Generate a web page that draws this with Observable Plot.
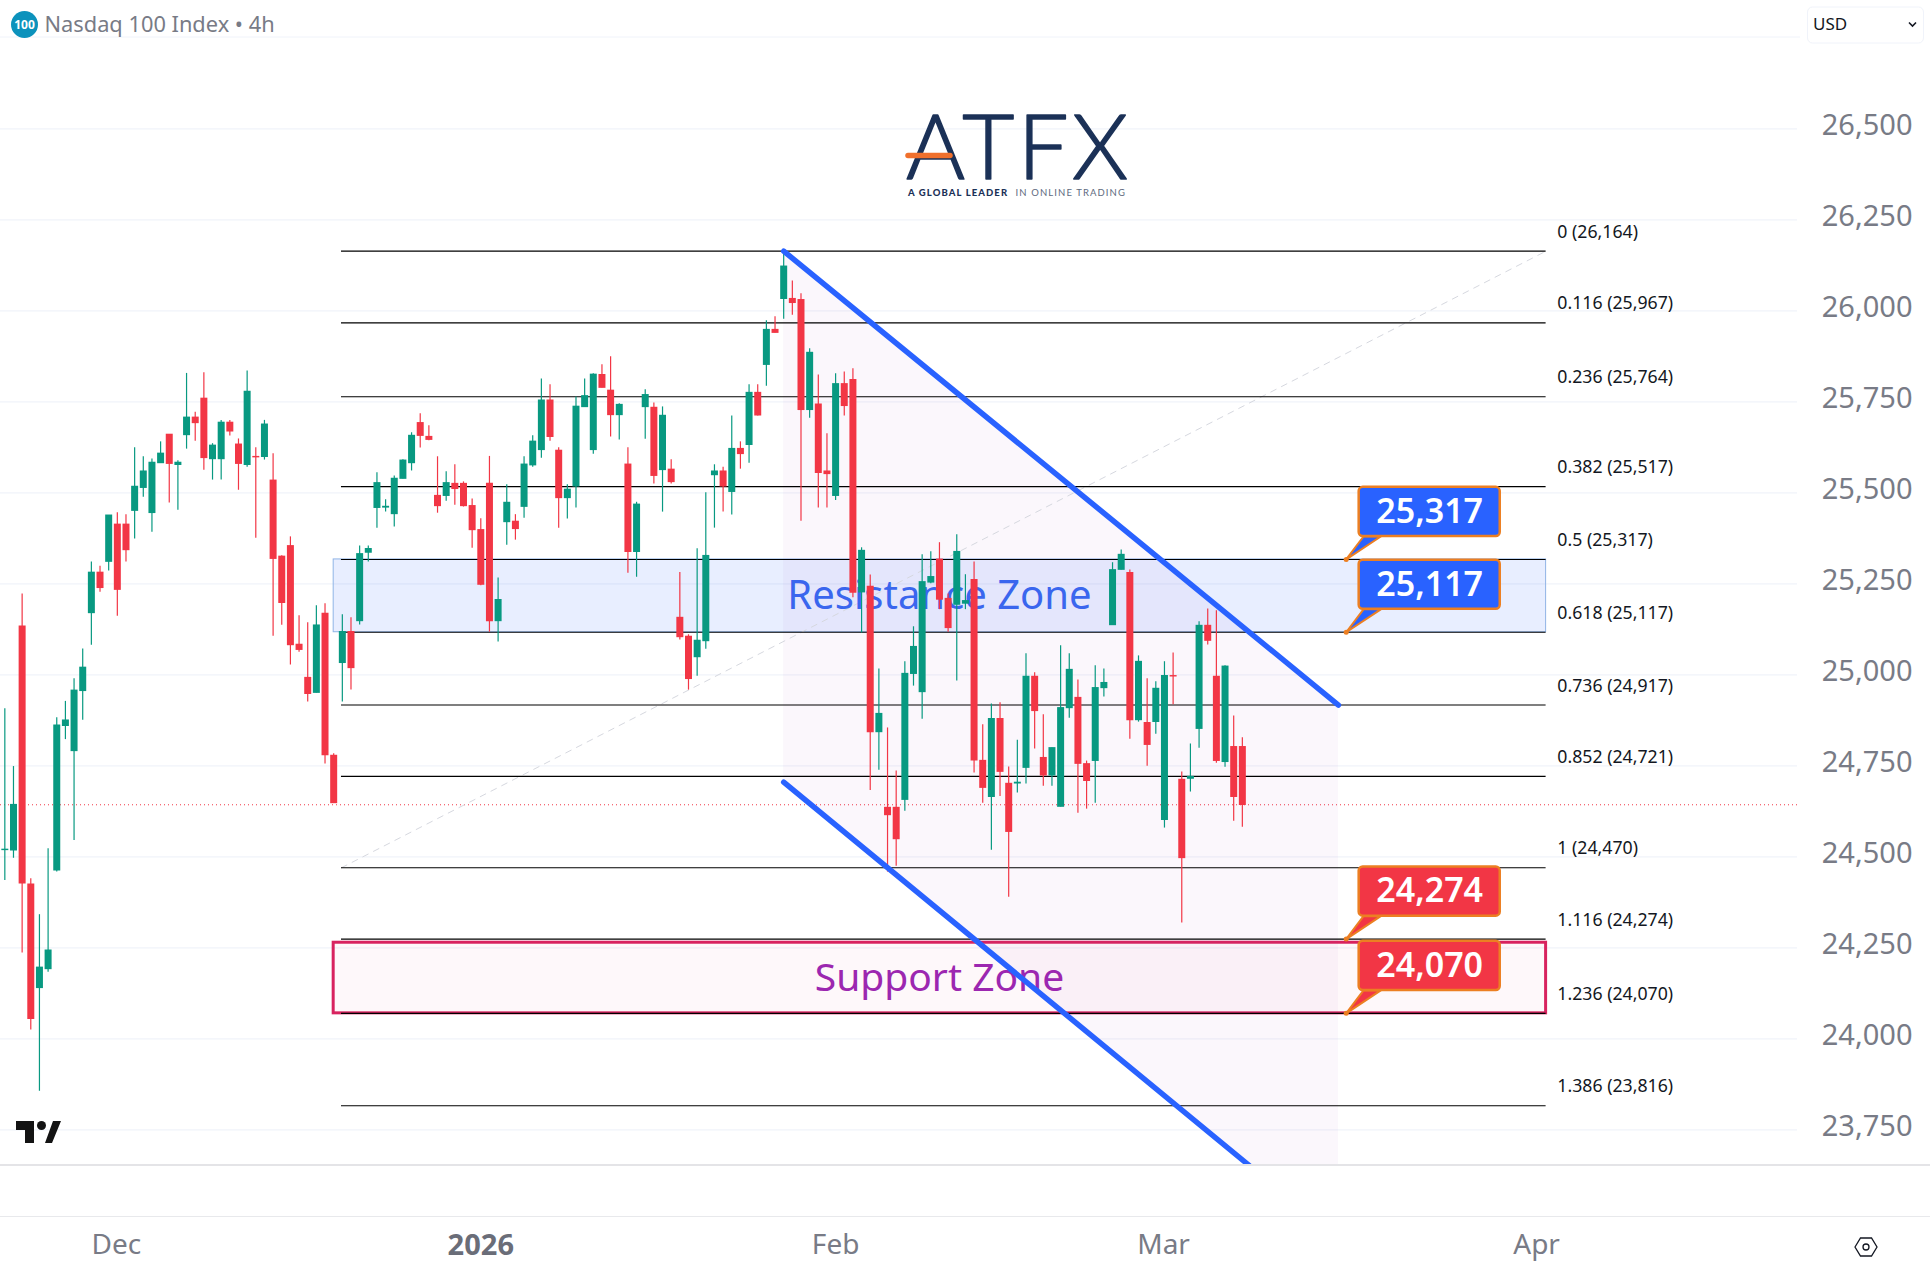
<!DOCTYPE html>
<html><head><meta charset="utf-8">
<script src="https://cdn.jsdelivr.net/npm/d3@7"></script>
<script src="https://cdn.jsdelivr.net/npm/@observablehq/plot@0.6"></script>
<style>html,body{margin:0;padding:0;background:#fff}svg{display:block}</style>
</head><body><div id="chart"></div>
<script>
const candleHigh = [
24907,24748,25222,24440,24341,24522,24882,24927,24989,25071,25310,25298,
25438,25445,25440,25624,25599,25593,25640,25660,25588,25828,25721,25830,
25635,25699,25699,25648,25835,25624,25699,25607,25327,25379,25162,25143,
25190,25195,24783,25165,25157,25354,25354,25555,25481,25546,25591,25665,
25717,25684,25599,25558,25577,25530,25483,25429,25600,25266,25522,25440,
25599,25657,25813,25797,25624,25522,25763,25813,25827,25852,25874,25745,
25624,25474,25783,25747,25736,25591,25281,25110,25346,25500,25577,25570,
25711,25640,25797,25797,25973,25984,26164,26082,26047,25896,25824,25662,
25827,25832,25841,25349,25274,25016,24854,24736,25036,25132,25330,25338,
25363,25222,25385,25275,25310,24863,24920,24923,24747,24820,25058,25006,
24890,24799,25080,25058,24986,24763,25025,25016,25308,25343,25288,25052,
24989,24981,25036,25060,24733,24810,25146,25181,25176,25025,24887,24827];
const candleLow = [
24435,24496,24236,24024,23856,24183,24458,24822,24545,24875,25081,25227,
25285,25161,25310,25373,25488,25392,25581,25472,25452,25620,25642,25562,
25535,25535,25656,25507,25570,25375,25590,25106,25136,25027,25062,24925,
24950,24755,24647,24925,24958,25137,25310,25403,25447,25406,25538,25560,
25623,25643,25444,25477,25466,25461,25348,25245,25117,25090,25356,25370,
25430,25570,25595,25642,25403,25428,25458,25735,25606,25788,25653,25645,
25279,25268,25647,25524,25447,25524,25096,24958,24996,25070,25403,25447,
25439,25565,25581,25711,25793,25939,25977,25988,25422,25705,25458,25458,
25479,25711,25212,25115,24682,24738,24458,24474,24625,24969,24878,25250,
25179,25117,24983,25179,24730,24647,24518,24666,24389,24675,24700,24796,
24694,24694,24637,24881,24620,24631,24647,24939,25136,25288,24823,24870,
24749,24837,24579,24918,24318,24678,24798,25082,24757,24746,24598,24581];
const candleOpen = [
24518,24517,25133,24424,24139,24191,24462,24859,24790,24955,25169,25281,
25310,25413,25413,25450,25513,25444,25581,25660,25576,25658,25707,25759,
25592,25592,25693,25633,25576,25599,25598,25534,25325,25354,25083,24992,
24950,25168,24778,25032,25118,25147,25335,25458,25459,25441,25538,25581,
25692,25654,25492,25491,25525,25525,25464,25398,25525,25147,25419,25421,
25461,25575,25617,25754,25616,25485,25517,25735,25617,25824,25781,25713,
25578,25337,25735,25734,25562,25564,25157,25105,25048,25092,25548,25559,
25502,25621,25631,25775,25851,25948,26032,26033,26030,25727,25743,25559,
25491,25799,25810,25226,25242,24842,24635,24635,24656,25002,24952,25253,
25317,25209,25192,25195,25261,24764,24664,24879,24701,24701,24744,24995,
24772,24723,24637,24908,24937,24755,24763,24963,25136,25288,25280,24875,
24868,24870,24601,24997,24712,24714,24851,25135,24995,24760,24802,24802];
const candleClose = [
24520,24643,24426,24054,24196,24243,24861,24875,24957,25020,25281,25238,
25438,25233,25342,25517,25559,25583,25608,25579,25583,25707,25691,25595,
25630,25693,25668,25579,25778,25597,25688,25318,25197,25081,25068,24947,
25136,24779,24647,25118,25018,25332,25346,25527,25462,25539,25589,25657,
25656,25645,25463,25527,25510,25463,25397,25247,25147,25206,25473,25400,
25578,25641,25754,25653,25485,25509,25737,25766,25825,25788,25713,25742,
25337,25468,25769,25546,25712,25529,25103,24988,25094,25327,25559,25517,
25621,25606,25775,25712,25948,25939,26122,26021,25727,25885,25554,25551,
25799,25738,25225,25341,24842,24893,24614,24548,25003,25077,25255,25269,
25206,25128,25338,25203,24764,24689,24879,24733,24568,24704,24995,24900,
24723,24799,24909,25014,24755,24708,24964,24978,25288,25330,24875,25036,
24807,24962,24997,24995,24496,24720,25135,25093,24763,25023,24664,24642];

const lastPrice = 24643;
const axisPrices = [23750,24000,24250,24500,24750,25000,25250,25500,25750,26000,26250,26500];
const monthLabels = ["Dec","Feb","Mar","Apr"];
const monthBars = [12.9,96,133.9,177];
const yearLabel = "2026", yearBar = 55;

const fibRatios = ["0","0.116","0.236","0.382","0.5","0.618","0.736","0.852","1","1.116","1.236","1.386"];
const fibPrices = [26164,25967,25764,25517,25317,25117,24917,24721,24470,24274,24070,23816];
const fibStart = 38.9, fibEnd = 178.1;
const zoneStart = 38, zoneEnd = 178.1;
const resistance = {top:25317,bottom:25117,label:"Resistance Zone"};
const support = {top:24264,bottom:24070,label:"Support Zone"};
const channelBars = [90,143.8,154.1];
const channelUpper = [26164,25118,24917];
const channelLower = [24705,23652,23652];
const calloutLevels = [25317,25117,24274,24070];
const calloutColors = ["#2962ff","#2962ff","#f23645","#f23645"];
const calloutTip = 155, calloutLeft = 156.5, calloutRight = 172.8, calloutBaseL = 157, calloutBaseR = 159;
const calloutTopRise = 198, calloutBottomRise = 63;

const candles = candleOpen.map((o,i)=>({i,o,c:candleClose[i],h:candleHigh[i],l:candleLow[i],up:candleClose[i]>=o}));
const UP="#089981", DOWN="#f23645", ORANGE="#ec7f22", FONT="'Noto Sans',sans-serif";
const fmt = d3.format(",");
const channel = channelBars.map((x,k)=>({x,u:channelUpper[k],l:channelLower[k]}));
const fibs = fibPrices.map((p,k)=>({p,label:`${fibRatios[k]} (${fmt(p)})`}));
const callouts = calloutLevels.map((p,k)=>({p,fill:calloutColors[k]}));
const pointers = callouts.flatMap((c,k)=>[
  {k,x:calloutTip,y:c.p,fill:c.fill},
  {k,x:calloutBaseL,y:c.p+calloutBottomRise,fill:c.fill},
  {k,x:calloutBaseR,y:c.p+calloutBottomRise,fill:c.fill}]);

function decorations(index,scales,values,dim){
  const g=d3.create("svg:g").attr("text-anchor","start");
  // header
  g.append("path").attr("d","M0 37H1800").attr("stroke","#f0f3fa").attr("stroke-width",1).attr("fill","none");
  g.append("circle").attr("cx",24.5).attr("cy",24.5).attr("r",13.5).attr("fill","#0c92bc");
  g.append("text").attr("x",24.5).attr("y",29).attr("text-anchor","middle").attr("fill","#fff")
   .attr("font-family",FONT).attr("font-size",12).attr("font-weight",700).text("100");
  g.append("text").attr("x",44.5).attr("y",32).attr("fill","#787b86").attr("font-family",FONT).attr("font-size",21.8).text("Nasdaq 100 Index • 4h");
  // currency box
  g.append("rect").attr("x",1807.5).attr("y",7).attr("width",116).attr("height",36).attr("rx",5).attr("fill","#fff").attr("stroke","#f0f3fa");
  g.append("text").attr("x",1813).attr("y",30).attr("fill","#131722").attr("font-family",FONT).attr("font-size",17).text("USD");
  g.append("path").attr("d","M1909 22.5l3.5 3.5 3.5-3.5").attr("fill","none").attr("stroke","#131722").attr("stroke-width",1.6);
  // pane borders
  g.append("path").attr("d","M0 1165H1930").attr("stroke","#e4e4e7").attr("stroke-width",2);
  g.append("path").attr("d","M0 1216.5H1930").attr("stroke","#e8e9ec").attr("stroke-width",1.2);
  // settings icon
  g.append("path").attr("d","M1855 1247l5.5-9h11l5.5 9-5.5 9h-11z").attr("fill","none").attr("stroke","#131722").attr("stroke-width",1.3);
  g.append("circle").attr("cx",1866).attr("cy",1247).attr("r",3).attr("fill","none").attr("stroke","#131722").attr("stroke-width",1.3);
  // TradingView mark
  g.append("path").attr("d","M16 1121H34V1143H25V1130H16ZM45 1143L53 1121H61L52 1143Z").attr("fill","#131313");
  g.append("circle").attr("cx",41.5).attr("cy",1125.5).attr("r",4.5).attr("fill","#131313");
  // logo
  g.append("text").attr("x",906).attr("y",179).attr("fill","#1b3157").attr("stroke","#1b3157").attr("stroke-width",1.6).attr("stroke-linejoin","round").attr("font-family","Lato").attr("font-weight",300).attr("font-size",90).attr("textLength",222).text("ATFX");
  g.append("path").attr("d","M908 155.5H950").attr("stroke","#f0702c").attr("stroke-width",5.5).attr("stroke-linecap","round");
  g.append("text").attr("x",908).attr("y",196).attr("fill","#1b3157").attr("font-family","Lato").attr("font-weight",900).attr("font-size",9.5).attr("letter-spacing",1.1).text("A GLOBAL LEADER");
  g.append("text").attr("x",1126).attr("y",196).attr("text-anchor","end").attr("fill","#5e6a7e").attr("font-family","Lato").attr("font-size",9.5).attr("letter-spacing",1.1).text("IN ONLINE TRADING");
  return g.node();
}

const chart = Plot.plot({
  width:1930,height:1281,
  marginTop:0,marginLeft:0,marginRight:133,marginBottom:116,
  x:{type:"linear",domain:[-0.5,207.15],axis:null},
  y:{type:"linear",domain:[23652,26852.5],axis:null},
  style:{background:"#fff",fontFamily:FONT,overflow:"visible"},
  marks:[
    Plot.ruleY(axisPrices,{stroke:"#f0f3fa",strokeWidth:1.2,strokeOpacity:1}),
    Plot.axisY({ticks:axisPrices,anchor:"right",tickSize:0,textAnchor:"end",tickPadding:115,dy:-3,fontSize:29,fill:"#787b86",tickFormat:d3.format(","),label:null}),
    Plot.axisX({ticks:monthBars,tickFormat:(d,k)=>monthLabels[k],anchor:"bottom",tickSize:0,tickPadding:69,fontSize:28,fill:"#787b86",label:null}),
    Plot.axisX({ticks:[yearBar],tickFormat:()=>yearLabel,anchor:"bottom",tickSize:0,tickPadding:69,fontSize:29,fontWeight:700,fill:"#6a6d78",label:null}),
    Plot.ruleY([lastPrice],{stroke:DOWN,strokeWidth:1,strokeDasharray:"1,3"}),
    Plot.rect([resistance],{x1:()=>zoneStart,x2:()=>zoneEnd,y1:"bottom",y2:"top",fill:"#2962ff",fillOpacity:0.11,stroke:"#90b4e6",strokeWidth:1}),
    Plot.rect([support],{x1:()=>zoneStart,x2:()=>zoneEnd,y1:"bottom",y2:"top",fill:"#e91e63",fillOpacity:0.03,stroke:"#d8235f",strokeWidth:3}),
    Plot.areaY(channel,{x:"x",y1:"u",y2:"l",fill:"#9c27b0",fillOpacity:0.04}),
    Plot.line([[fibStart,fibPrices[8]],[fibEnd,fibPrices[0]]],{stroke:"#d6d8df",strokeWidth:1,strokeDasharray:"6,6"}),
    Plot.ruleY(fibPrices,{x1:()=>fibStart,x2:()=>fibEnd,stroke:"#000",strokeWidth:1.1}),
    Plot.text(fibs,{x:()=>fibEnd+1.3,y:"p",text:"label",textAnchor:"start",dy:-19,fontSize:17.7,fill:"#131722"}),
    Plot.text([resistance],{x:()=>108,y:d=>(d.top+d.bottom)/2,text:"label",fontSize:40,fill:"#3a66ee"}),
    Plot.text([support],{x:()=>108,y:d=>(d.top+d.bottom)/2,text:"label",fontSize:39,fill:"#9c27b0"}),
    Plot.ruleX(candles,{x:"i",y1:"l",y2:"h",stroke:d=>d.up?UP:DOWN,strokeWidth:1.2}),
    Plot.ruleX(candles,{x:"i",y1:d=>Math.min(d.o,d.c)-1,y2:d=>Math.max(d.o,d.c)+1,stroke:d=>d.up?UP:DOWN,strokeWidth:7}),
    Plot.line([[channelBars[0],channelUpper[0]],[channelBars[2],channelUpper[2]]],{stroke:"#2962ff",strokeWidth:5.5,strokeLinecap:"round"}),
    Plot.line([[channelBars[0],channelLower[0]],[channelBars[1],channelLower[1]]],{stroke:"#2962ff",strokeWidth:5.5,strokeLinecap:"round",clip:true}),
    Plot.line(pointers,{x:"x",y:"y",z:"k",fill:"fill",stroke:ORANGE,strokeWidth:2,curve:"linear-closed"}),
    Plot.dot(callouts,{x:()=>calloutTip,y:"p",r:2.5,fill:ORANGE}),
    Plot.rect(callouts,{x1:()=>calloutLeft,x2:()=>calloutRight,y1:d=>d.p+calloutBottomRise,y2:d=>d.p+calloutTopRise,fill:"fill",stroke:ORANGE,strokeWidth:2.5,rx:4}),
    Plot.text(callouts,{x:()=>(calloutLeft+calloutRight)/2,y:d=>d.p+(calloutTopRise+calloutBottomRise)/2,text:d=>fmt(d.p),fill:"#fff",fontSize:34,fontWeight:600}),
    decorations
  ]
});
document.getElementById("chart").append(chart);
</script></body></html>
